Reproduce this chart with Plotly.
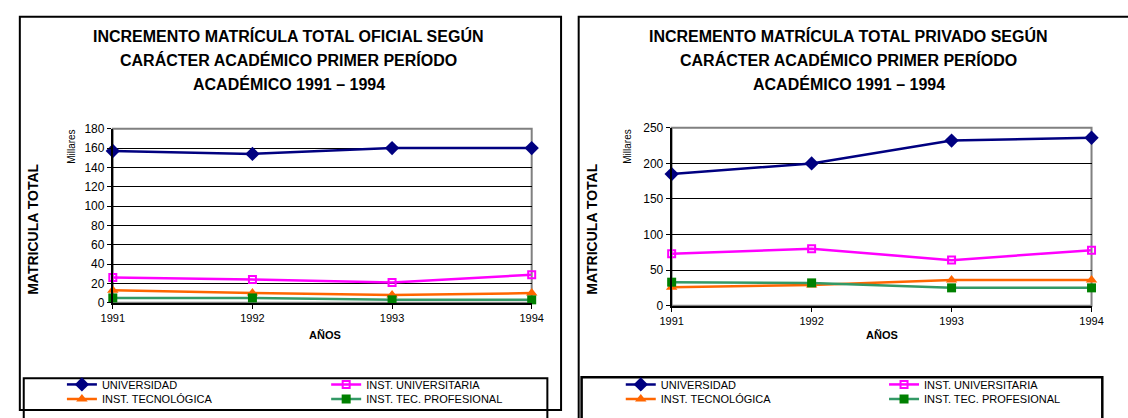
import plotly.graph_objects as go

W, H = 1128, 418

years = [1991, 1992, 1993, 1994]
series_names = ["UNIVERSIDAD", "INST. UNIVERSITARIA", "INST. TECNOLÓGICA", "INST. TEC. PROFESIONAL"]

# Matrícula total oficial (miles)
oficial_universidad = [157, 154, 160, 160]
oficial_inst_universitaria = [26, 24, 21, 29]
oficial_inst_tecnologica = [13, 10, 8, 10]
oficial_inst_tec_profesional = [5, 5, 3, 3]

# Matrícula total privada (miles)
privado_universidad = [185, 200, 232, 236]
privado_inst_universitaria = [73, 80, 64, 78]
privado_inst_tecnologica = [26, 29, 36, 36]
privado_inst_tec_profesional = [33, 32, 25, 25]

oficial_ticks = [0, 20, 40, 60, 80, 100, 120, 140, 160, 180]
privado_ticks = [0, 50, 100, 150, 200, 250]

titles_oficial = ["INCREMENTO MATRÍCULA TOTAL OFICIAL SEGÚN",
                  "CARÁCTER ACADÉMICO PRIMER PERÍODO",
                  "ACADÉMICO 1991 – 1994"]
titles_privado = ["INCREMENTO MATRÍCULA TOTAL PRIVADO SEGÚN",
                  "CARÁCTER ACADÉMICO PRIMER PERÍODO",
                  "ACADÉMICO 1991 – 1994"]

FONT = "Liberation Sans, Arial, sans-serif"

styles = [
    dict(line=dict(color="#000080", width=2.5),
         marker=dict(symbol="diamond", size=11, color="#000080")),
    dict(line=dict(color="#FF00FF", width=2.5),
         marker=dict(symbol="square-open", size=7, color="#FF00FF", line=dict(width=2, color="#FF00FF"))),
    dict(line=dict(color="#FF6600", width=2.5),
         marker=dict(symbol="triangle-up", size=10, color="#FF6600")),
    dict(line=dict(color="#339966", width=2.5),
         marker=dict(symbol="square", size=9, color="#008000")),
]


def px_x(p):
    return p / W


def px_y(p):
    return 1 - p / H


# legend slot per series: (column line start px, row centre px)
legend_cols = {"left": [56, 326], "right": [627, 896]}
legend_rows = [390, 405]
# series order -> (column index, row index) in the two-column legend
legend_slots = [(0, 0), (1, 0), (0, 1), (1, 1)]

fig = go.Figure()

panels = [
    dict(key="left", xa="x", ya="y",
         data=[oficial_universidad, oficial_inst_universitaria, oficial_inst_tecnologica, oficial_inst_tec_profesional]),
    dict(key="right", xa="x2", ya="y2",
         data=[privado_universidad, privado_inst_universitaria, privado_inst_tecnologica, privado_inst_tec_profesional]),
]

legend_layouts = {}
n_leg = 0
for panel in panels:
    for name, vals, st, slot in zip(series_names, panel["data"], styles, legend_slots):
        n_leg += 1
        lg = "legend" if n_leg == 1 else f"legend{n_leg}"
        col, row = slot
        legend_layouts[lg] = dict(
            x=px_x(legend_cols[panel["key"]][col] - 5),
            y=px_y(legend_rows[row] - 14.5),
            xanchor="left", yanchor="top", orientation="v",
            bgcolor="rgba(0,0,0,0)", borderwidth=0,
            font=dict(family=FONT, size=11, color="black"),
        )
        fig.add_trace(go.Scatter(
            x=years, y=vals, name=name, mode="lines+markers",
            line=st["line"], marker=st["marker"],
            xaxis=panel["xa"], yaxis=panel["ya"],
            legend=lg, showlegend=True, cliponaxis=False,
        ))

axis_common = dict(
    showline=True, linecolor="black", linewidth=2,
    ticks="outside", ticklen=4, tickcolor="black", tickwidth=1,
    zeroline=False,
)

fig.update_layout(
    width=W, height=H,
    margin=dict(l=0, r=0, t=0, b=0),
    showlegend=True,
    paper_bgcolor="white", plot_bgcolor="white",
    font=dict(family=FONT, color="black"),
    xaxis=dict(domain=[px_x(103), px_x(531)], range=[1991, 1994], tickvals=years,
               showgrid=False, tickfont=dict(size=11), anchor="y", **axis_common),
    yaxis=dict(domain=[px_y(306), px_y(126)], range=[0, 180], tickvals=oficial_ticks,
               showgrid=True, gridcolor="black", gridwidth=1,
               tickfont=dict(size=12), anchor="x", **axis_common),
    xaxis2=dict(domain=[px_x(674), px_x(1103)], range=[1991, 1994], tickvals=years,
                showgrid=False, tickfont=dict(size=11), anchor="y2", **axis_common),
    yaxis2=dict(domain=[px_y(309), px_y(125)], range=[0, 250], tickvals=privado_ticks,
                showgrid=True, gridcolor="black", gridwidth=1,
                tickfont=dict(size=12), anchor="x2", **axis_common),
    **legend_layouts,
)

shapes = []
# outer frames
shapes.append(dict(type="rect", xref="paper", yref="paper",
                   x0=px_x(8), y0=px_y(10), x1=px_x(561), y1=px_y(417),
                   line=dict(color="black", width=2)))
shapes.append(dict(type="rect", xref="paper", yref="paper",
                   x0=px_x(579), y0=px_y(10), x1=px_x(1145), y1=px_y(440),
                   line=dict(color="black", width=2)))
# legend boxes
shapes.append(dict(type="rect", xref="paper", yref="paper",
                   x0=px_x(12), y0=px_y(384), x1=px_x(547), y1=px_y(440),
                   line=dict(color="black", width=2)))
shapes.append(dict(type="rect", xref="paper", yref="paper",
                   x0=px_x(582), y0=px_y(383), x1=px_x(1114), y1=px_y(440),
                   line=dict(color="black", width=2.5)))
# grey plot-area borders (top and right edges)
for xa, ya in [("x", "y"), ("x2", "y2")]:
    shapes.append(dict(type="rect", xref=f"{xa} domain", yref=f"{ya} domain",
                       x0=0, y0=0, x1=1, y1=1, layer="below",
                       line=dict(color="#808080", width=2)))
fig.update_layout(shapes=shapes)

ann = []
for i, t in enumerate(titles_oficial):
    ann.append(dict(text=f"<b>{t}</b>", x=px_x(283), y=px_y(30 + 25 * i),
                    xref="paper", yref="paper", showarrow=False,
                    xanchor="center", yanchor="middle", font=dict(size=16)))
for i, t in enumerate(titles_privado):
    ann.append(dict(text=f"<b>{t}</b>", x=px_x(855), y=px_y(30 + 25 * i),
                    xref="paper", yref="paper", showarrow=False,
                    xanchor="center", yanchor="middle", font=dict(size=16)))

for cx, mx, ax_x in [(22, 60, 320), (593, 629, 889)]:
    ann.append(dict(text="<b>MATRICULA TOTAL</b>", x=px_x(cx), y=px_y(230),
                    xref="paper", yref="paper", showarrow=False, textangle=-90,
                    xanchor="center", yanchor="middle", font=dict(size=14)))
    ann.append(dict(text="Millares", x=px_x(mx), y=px_y(145),
                    xref="paper", yref="paper", showarrow=False, textangle=-90,
                    xanchor="center", yanchor="middle", font=dict(size=10)))
    ann.append(dict(text="<b>AÑOS</b>", x=px_x(ax_x), y=px_y(339),
                    xref="paper", yref="paper", showarrow=False,
                    xanchor="center", yanchor="middle", font=dict(size=11)))
fig.update_layout(annotations=ann)

fig.write_html("out.html")
